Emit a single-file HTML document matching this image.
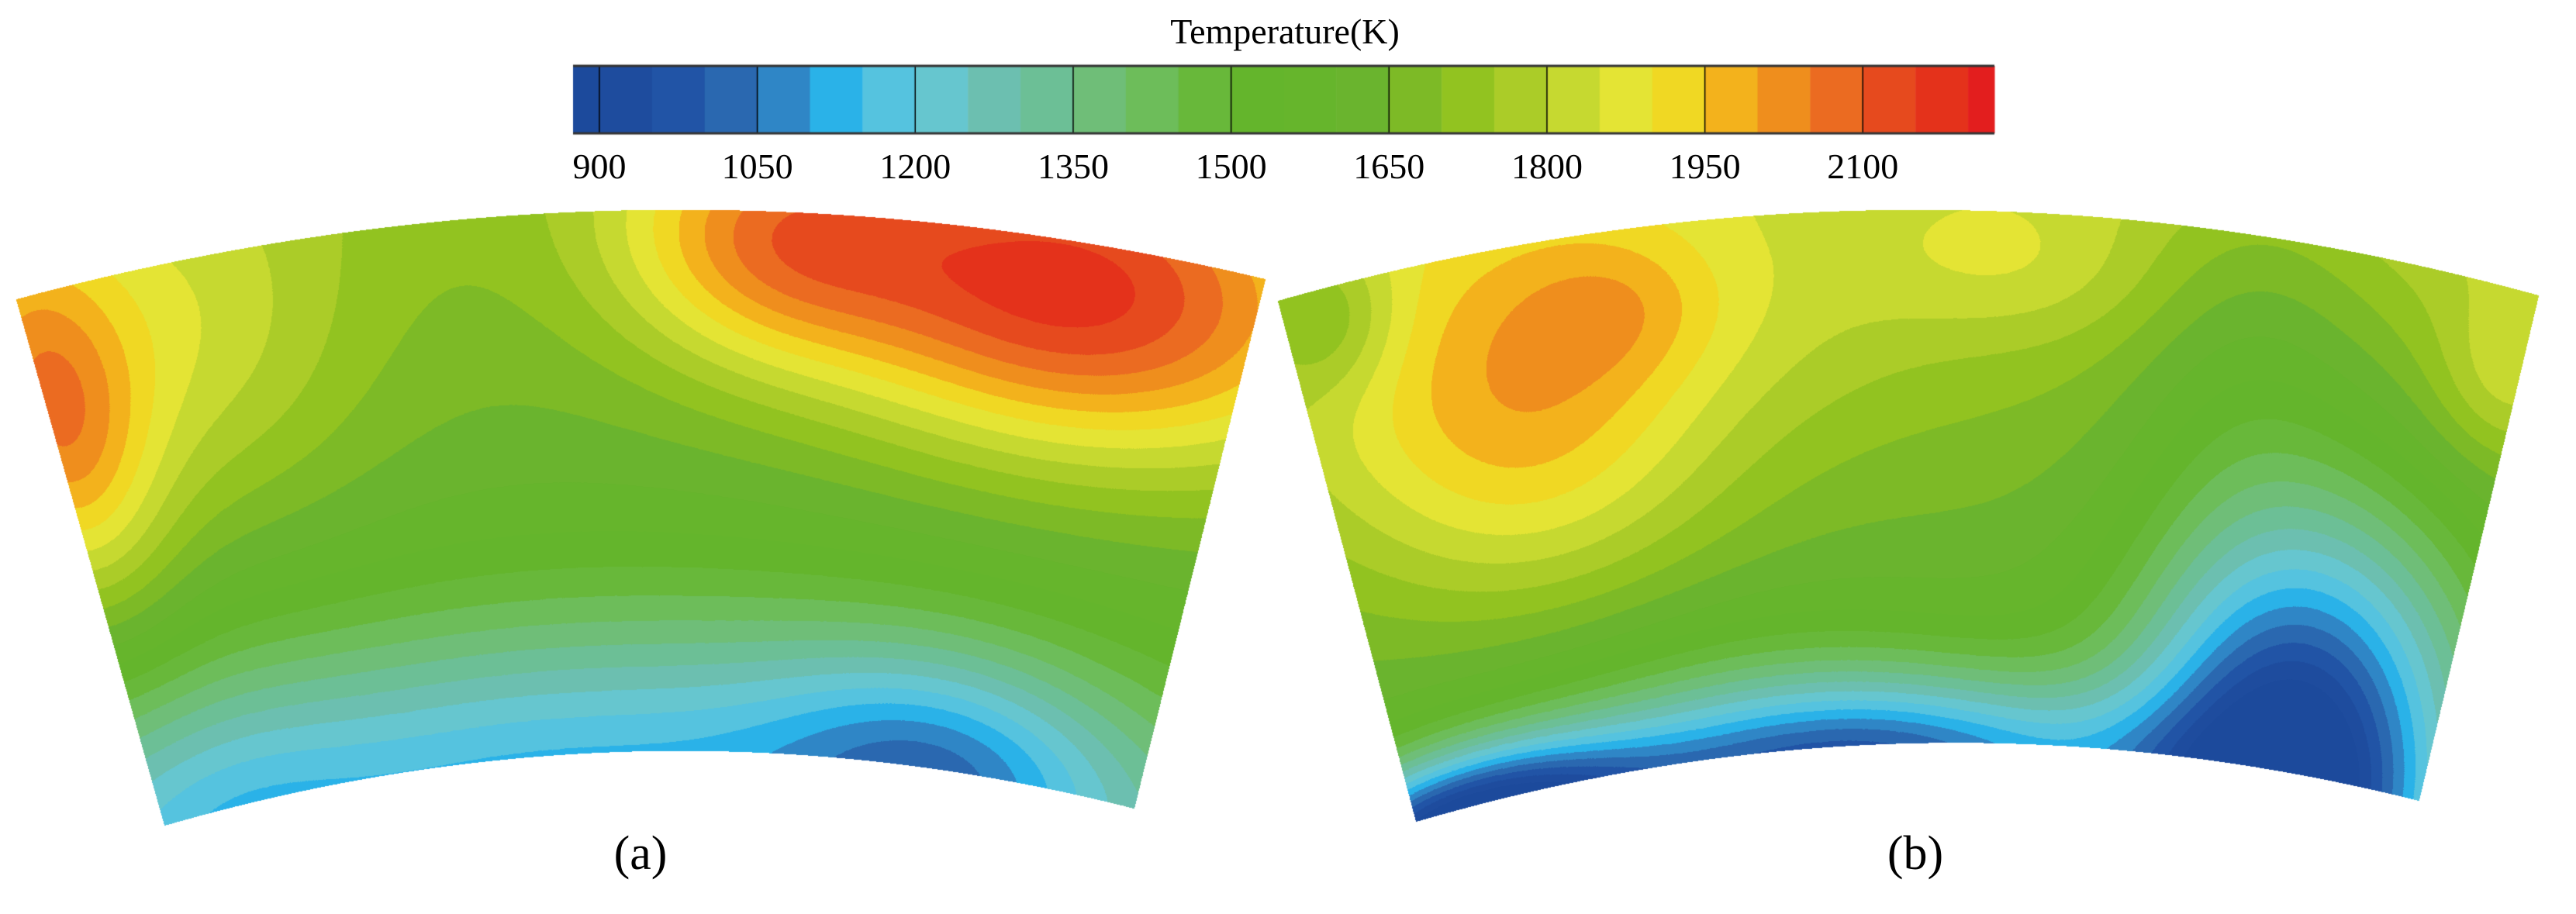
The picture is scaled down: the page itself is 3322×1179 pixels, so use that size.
<!DOCTYPE html>
<html><head><meta charset="utf-8"><style>
html,body{margin:0;padding:0;background:#fff;width:3322px;height:1179px;overflow:hidden}
#wrap{position:relative;width:3322px;height:1179px}
canvas{position:absolute;left:0;top:0}
.t{position:absolute;font-family:"Liberation Serif",serif;color:#000;white-space:nowrap;transform:translateX(-50%)}
</style></head><body>
<div id="wrap">
<canvas id="cv" width="3322" height="1179"></canvas>
<div class="t" style="left:1657px;top:14px;font-size:46px">Temperature(K)</div>
<div id="ticks"></div>
<div class="t" style="left:826px;top:1066px;font-size:62px">(a)</div>
<div class="t" style="left:2470px;top:1066px;font-size:62px">(b)</div>
</div>
<script>
// colour levels (band lower bounds) and colours
const levels=[875,900,950,1000,1050,1100,1150,1200,1250,1300,1350,1400,1450,1500,1550,1600,1650,1700,1750,1800,1850,1900,1950,2000,2050,2100,2150,2200];
const colors=["#1c4a9c","#1e4c9e","#2154a6","#2a68b0","#2f86c6","#2ab2e8","#55c3df","#66c6cf","#6cbfb0","#6cbf96","#6fbe78","#6dbd5a","#68b83a","#64b52c","#66b52c","#6ab42e","#7dba26","#92c320","#abcc28","#c6d930","#e4e434","#f0d823","#f3b21c","#ef8e1d","#eb6b21","#e64a1e","#e4321b","#e31e1e"];
const tickValues=[900,1050,1200,1350,1500,1650,1800,1950,2100];
const cbMin=875, cbMax=2225;
// field (a): blobs [u, v, amplitude, sigmaU, sigmaV]
const baseA=1590, topGainA=110;
const blobsA=[[0.85,0.1,490,0.16,0.21],[0.6,0.05,260,0.09,0.16],[0.0,0.24,330,0.055,0.25],[0.12,0.15,160,0.1,0.25],[0.4,1.1,-480,0.55,0.26],[0.8,1.0,-230,0.12,0.15],[0.05,1.0,-80,0.1,0.2]];
// field (b)
const baseB=1600, topGainB=200;
const blobsB=[[0.17,0.32,275,0.12,0.25],[0.26,0.14,90,0.06,0.1],[0.58,0.1,80,0.08,0.1],[0.4,0.2,40,0.1,0.15],[0.99,0.17,110,0.04,0.12],[0.78,0.2,-100,0.07,0.3],[0.03,0.05,-150,0.04,0.1],[0.87,1.05,-830,0.11,0.38],[0.04,1.05,-720,0.12,0.1],[0.48,1.05,-470,0.2,0.12],[0.3,1.05,-250,0.2,0.2]];
// geometry: top L, top ctrl, top R, bottom L, bottom ctrl, bottom R
const geomA=[[21,386],[826,169],[1631,360],[212,1064],[837,883],[1462,1042]];
const geomB=[[1648,388],[2460,157],[3273,381],[1826,1059],[2472,870],[3119,1032]];

const cbX0=739, cbX1=2572, cbY0=85, cbY1=172;
function xs(T){return cbX0+(T-cbMin)/(cbMax-cbMin)*(cbX1-cbX0);}
function colIdx(T){let i=0;for(let k=0;k<levels.length;k++){if(T>=levels[k])i=k;}return i;}
function hex(c){return[parseInt(c.slice(1,3),16),parseInt(c.slice(3,5),16),parseInt(c.slice(5,7),16)];}
const rgb=colors.map(hex);

const cv=document.getElementById('cv');const ctx=cv.getContext('2d');
ctx.fillStyle='#fff';ctx.fillRect(0,0,3322,1179);
for(let k=0;k<levels.length;k++){
  const a=levels[k], b=k+1<levels.length?levels[k+1]:cbMax;
  ctx.fillStyle=colors[k];
  ctx.fillRect(xs(a),cbY0,xs(b)-xs(a)+0.5,cbY1-cbY0);
}
ctx.strokeStyle='#000';ctx.lineWidth=1.5;
tickValues.forEach(v=>{ctx.beginPath();ctx.moveTo(xs(v),cbY0);ctx.lineTo(xs(v),cbY1);ctx.stroke();});
ctx.lineWidth=3;ctx.strokeStyle='#333';
ctx.beginPath();ctx.moveTo(cbX0,cbY0);ctx.lineTo(cbX1,cbY0);ctx.stroke();
ctx.beginPath();ctx.moveTo(cbX0,cbY1);ctx.lineTo(cbX1,cbY1);ctx.stroke();
const tk=document.getElementById('ticks');
tickValues.forEach(v=>{
  const d=document.createElement('div');d.className='t';
  
  
  d.style.left=xs(v)+'px';d.style.top='188px';d.style.fontSize='46px';d.textContent=v;tk.appendChild(d);
});
function field(u,v,base,gain,blobs){
  let T=base+gain*Math.pow(1-v,1.5);
  for(const b of blobs){const du=(u-b[0])/b[3],dv=(v-b[1])/b[4];T+=b[2]*Math.exp(-0.5*(du*du+dv*dv));}
  return T;
}
function qb(p0,c,p2,t){const s=1-t;return[s*s*p0[0]+2*s*t*c[0]+t*t*p2[0],s*s*p0[1]+2*s*t*c[1]+t*t*p2[1]];}
const img=ctx.getImageData(0,0,3322,1179);const D=img.data;
function plot(g,base,gain,blobs){
  const NU=2600,NV=1300;
  for(let i=0;i<=NU;i++){
    const u=i/NU;const t=qb(g[0],g[1],g[2],u),b=qb(g[3],g[4],g[5],u);
    for(let j=0;j<=NV;j++){
      const v=j/NV;const x=Math.round(t[0]+(b[0]-t[0])*v),y=Math.round(t[1]+(b[1]-t[1])*v);
      const c=rgb[colIdx(field(u,v,base,gain,blobs))];
      const o=(y*3322+x)*4;D[o]=c[0];D[o+1]=c[1];D[o+2]=c[2];D[o+3]=255;
    }
  }
}
plot(geomA,baseA,topGainA,blobsA);
plot(geomB,baseB,topGainB,blobsB);
ctx.putImageData(img,0,0);
</script>
</body></html>
